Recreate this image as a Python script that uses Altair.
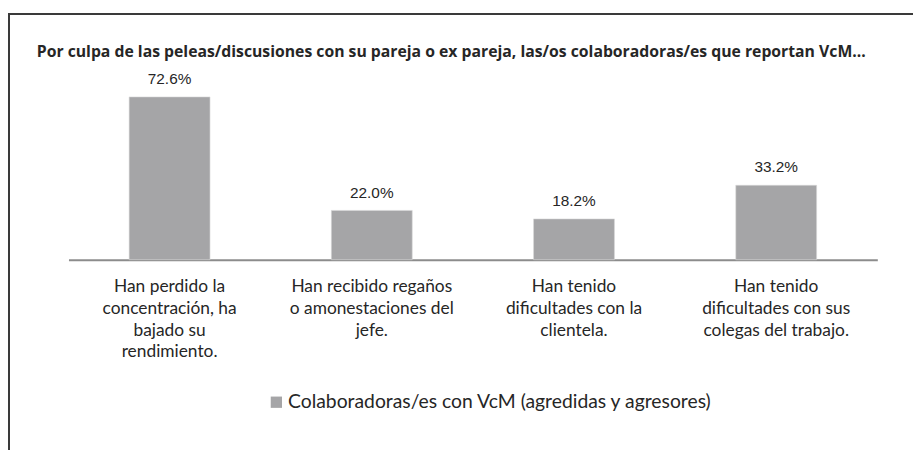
import altair as alt
import pandas as pd

title_text = "Por culpa de las peleas/discusiones con su pareja o ex pareja, las/os colaboradoras/es que reportan VcM…"
categories = [
    "Han perdido la|concentración, ha|bajado su|rendimiento.",
    "Han recibido regaños|o amonestaciones del|jefe.",
    "Han tenido|dificultades con la|clientela.",
    "Han tenido|dificultades con sus|colegas del trabajo.",
]
values = [72.6, 22.0, 18.2, 33.2]
series_name = "Colaboradoras/es con VcM (agredidas y agresores)"

df = pd.DataFrame({"cat": categories, "val": values, "serie": [series_name] * 4})
df["lbl"] = df["val"].map(lambda v: f"{v:.1f}%")

TXT = "#262626"
BAR = "#a5a5a7"
FONT = "Lato"

x_enc = alt.X(
    "cat:N",
    sort=categories,
    scale=alt.Scale(paddingInner=0.6, paddingOuter=0.3),
    axis=alt.Axis(
        title=None,
        labelAngle=0,
        labelExpr="split(datum.label, '|')",
        labelFont=FONT,
        labelFontSize=17.5,
        labelColor=TXT,
        labelLineHeight=22,
        labelPadding=18,
        ticks=False,
        domainColor="#8c8c8c",
        domainWidth=2,
        labelLimit=300,
    ),
)

y_enc = alt.Y("val:Q", scale=alt.Scale(domain=[0, 80]), axis=None)

bars = alt.Chart(df).mark_bar(stroke="#d8d8d8", strokeWidth=0.6).encode(
    x=x_enc,
    y=y_enc,
    color=alt.Color(
        "serie:N",
        scale=alt.Scale(range=[BAR]),
        legend=alt.Legend(
            title=None,
            orient="none",
            legendX=200,
            legendY=315,
            symbolType="square",
            symbolSize=130,
            symbolStrokeWidth=0,
            labelFont=FONT,
            labelFontSize=19.5,
            labelColor=TXT,
            labelLimit=700,
            labelOffset=2,
        ),
    ),
)

labels = alt.Chart(df).mark_text(
    dy=-18, font="Liberation Sans", fontSize=15.5, color=TXT
).encode(x=alt.X("cat:N", sort=categories), y="val:Q", text="lbl:N")

frame = alt.Chart(df).mark_rect(
    fill=None, stroke="#3a3a3a", strokeWidth=2
).encode(
    x=alt.value(-60), x2=alt.value(900), y=alt.value(-67), y2=alt.value(450)
)

title = alt.Chart(pd.DataFrame({"t": [title_text]})).mark_text(
    align="left", baseline="middle", font="Open Sans", fontSize=15.9,
    fontWeight="bold", color=TXT
).encode(x=alt.value(-32), y=alt.value(-29), text="t:N")

chart = (
    alt.layer(frame, bars, labels, title)
    .properties(
        width=816,
        height=181,
        padding={"left": 61, "top": 71, "right": 36, "bottom": 190},
        autosize=alt.AutoSizeParams(type="none"),
        background="white",
    )
    .configure_view(strokeWidth=0, stroke="transparent")
)

chart.save("out.html", embed_options={"renderer": "svg", "actions": False})
